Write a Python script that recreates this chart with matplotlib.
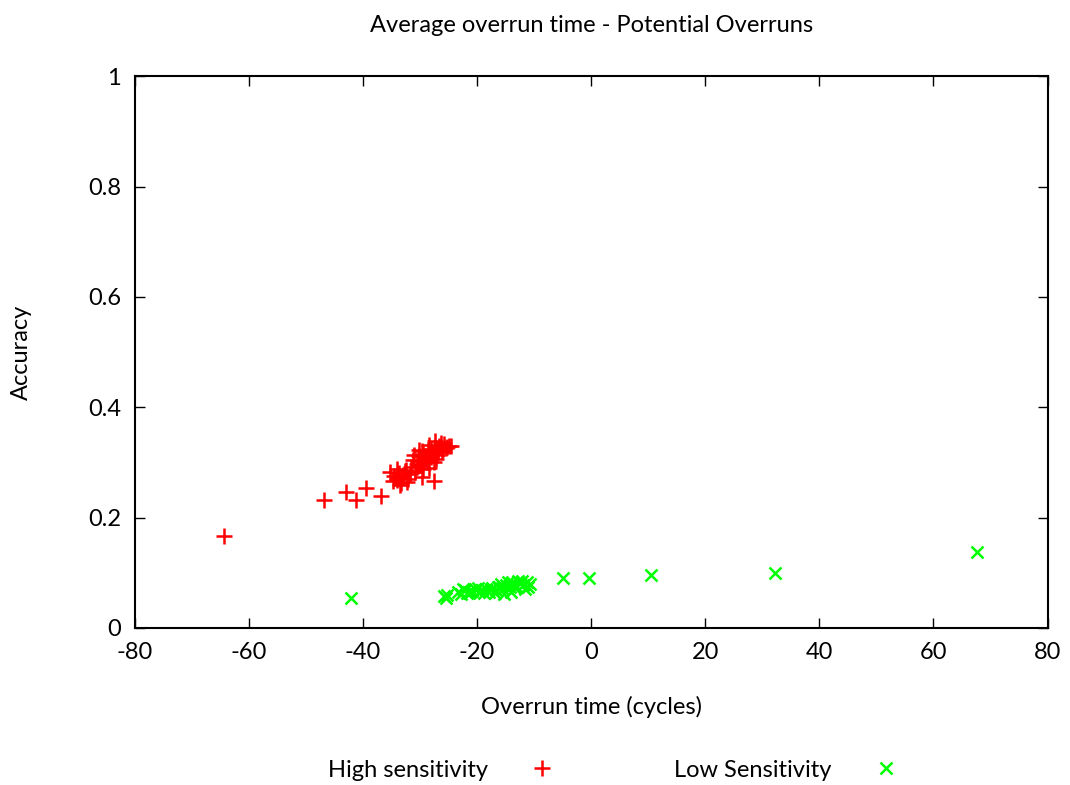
import matplotlib
matplotlib.use('Agg')
from matplotlib import pyplot as plt

plt.rcParams['font.family'] = ['Lato', 'DejaVu Sans']
plt.rcParams['axes.unicode_minus'] = False

# High sensitivity: overrun time (cycles), accuracy
high_x = [-64.4, -46.9, -42.9, -41.3, -39.5, -36.9, -27.6, -29.7, -28.4,
          -35.2, -34.6, -34.1, -33.7, -33.3, -32.9, -32.5, -32.1, -31.8,
          -34.8, -34.0, -33.5, -33.0, -32.6, -32.2, -31.5, -30.9, -33.8,
          -31.2, -30.6, -30.2, -29.8, -29.4, -29.0, -28.6, -28.2, -27.8,
          -27.4, -27.0, -26.6, -26.2, -25.8, -25.4, -25.0, -24.6, -30.4,
          -29.6, -28.8, -28.0, -27.2, -26.4, -30.0, -29.2, -28.4, -27.6,
          -26.8, -26.0, -29.5, -28.1, -27.3, -25.2, -31.0, -30.1]
high_y = [0.167, 0.232, 0.246, 0.232, 0.254, 0.239, 0.266, 0.273, 0.290,
          0.283, 0.275, 0.268, 0.281, 0.262, 0.274, 0.286, 0.270, 0.279,
          0.266, 0.289, 0.260, 0.277, 0.284, 0.265, 0.291, 0.283, 0.272,
          0.305, 0.298, 0.312, 0.303, 0.316, 0.308, 0.322, 0.311, 0.318,
          0.326, 0.314, 0.329, 0.321, 0.333, 0.327, 0.330, 0.329, 0.294,
          0.320, 0.300, 0.325, 0.306, 0.336, 0.296, 0.311, 0.331, 0.301,
          0.319, 0.325, 0.289, 0.309, 0.338, 0.328, 0.313, 0.323]

# Low Sensitivity
low_x = [-42.1, -25.5, -5.0, -0.4, 10.4, 32.3, 67.6, -25.8, -25.2, -23.4,
         -22.8, -22.1, -21.5, -20.9, -20.3, -19.7, -19.1, -18.5, -17.9,
         -17.3, -16.7, -16.1, -15.5, -14.9, -14.3, -13.7, -13.1, -12.5,
         -11.9, -11.3, -10.7, -22.5, -21.2, -19.9, -18.8, -17.6, -16.4,
         -15.2, -14.6, -13.4, -12.2, -11.0, -15.8, -14.0, -12.8, -11.6,
         -13.9, -16.9, -19.4, -21.8]
low_y = [0.054, 0.054, 0.090, 0.090, 0.096, 0.100, 0.138, 0.058, 0.060, 0.066,
         0.062, 0.068, 0.064, 0.067, 0.070, 0.065, 0.069, 0.071, 0.066,
         0.072, 0.068, 0.074, 0.070, 0.078, 0.075, 0.080, 0.077, 0.082,
         0.078, 0.083, 0.080, 0.070, 0.066, 0.072, 0.064, 0.070, 0.075,
         0.061, 0.084, 0.072, 0.086, 0.074, 0.079, 0.066, 0.085, 0.071,
         0.084, 0.063, 0.068, 0.064]

fig = plt.figure(figsize=(10.7, 7.85), dpi=100)
ax = fig.add_axes([0.126, 0.2, 0.853, 0.703])

ax.plot(high_x, high_y, linestyle='none', marker='+', markersize=11,
        markeredgewidth=1.8, color='#ff0000', label='High sensitivity')
ax.plot(low_x, low_y, linestyle='none', marker='x', markersize=8,
        markeredgewidth=1.8, color='#00ff00', label='Low Sensitivity')

ax.set_xlim(-80, 80)
ax.set_ylim(0, 1)
ax.set_xticks(range(-80, 81, 20))
ax.set_yticks([0, 0.2, 0.4, 0.6, 0.8, 1])
ax.set_yticklabels(['0', '0.2', '0.4', '0.6', '0.8', '1'])
ax.tick_params(direction='in', top=True, right=True, length=7, width=1,
               labelsize=17, pad=10)
for s in ax.spines.values():
    s.set_linewidth(1.5)

ax.set_title('Average overrun time - Potential Overruns', fontsize=17, pad=32)
ax.set_xlabel('Overrun time (cycles)', fontsize=17, labelpad=24)
ax.set_ylabel('Accuracy', fontsize=17, labelpad=40)

ax.legend(loc='upper center', bbox_to_anchor=(0.53, -0.2), ncol=2,
          markerfirst=False, frameon=False, fontsize=17, columnspacing=4.6,
          handletextpad=1.3, handlelength=2)

plt.savefig('out.png')
